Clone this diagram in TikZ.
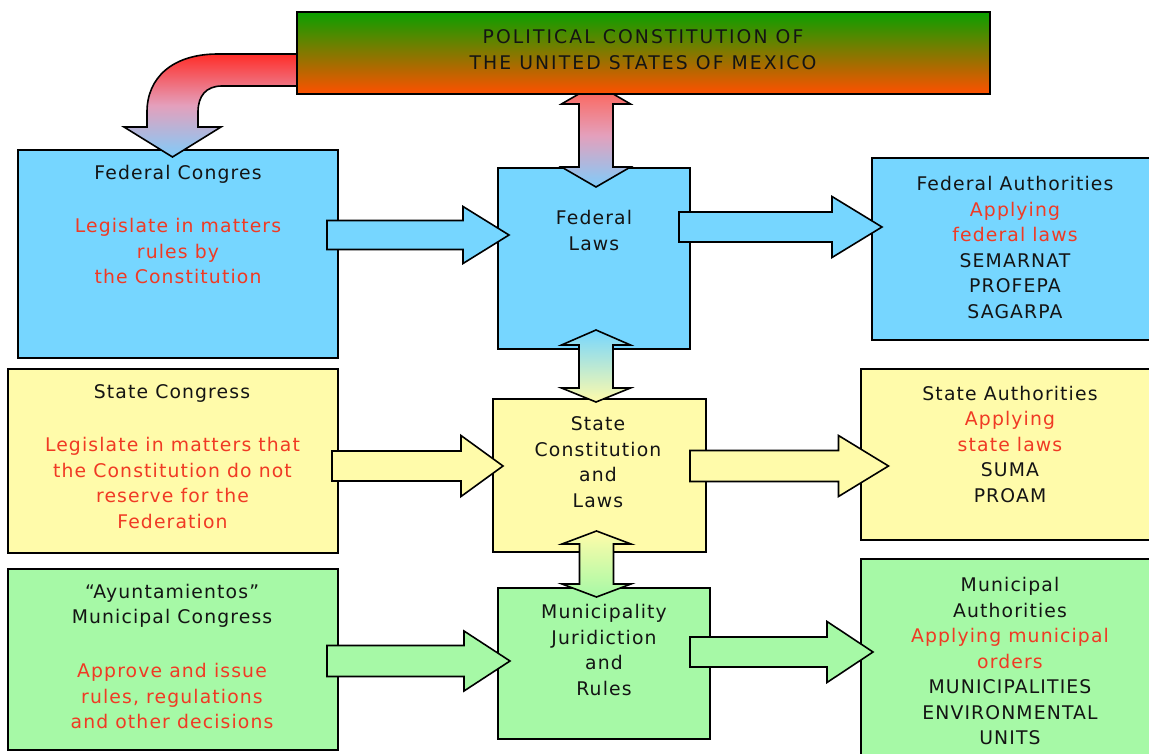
\documentclass[tikz,border=0pt]{standalone}
\usepackage{fontspec}
\setmainfont{DejaVu Sans}[LetterSpace=6]
\newfontfamily\capsfont{DejaVu Sans}[LetterSpace=11]
\definecolor{fblue}{RGB}{118,214,255}
\definecolor{fyellow}{RGB}{255,251,170}
\definecolor{fgreen}{RGB}{166,249,166}
\definecolor{tred}{RGB}{240,58,36}
\definecolor{tgreen}{RGB}{10,160,0}
\definecolor{torange}{RGB}{255,80,0}
\definecolor{ared}{RGB}{255,45,40}
\definecolor{ared2}{RGB}{255,95,80}
\definecolor{apink}{RGB}{228,160,188}
\definecolor{ablue}{RGB}{128,204,250}
\tikzset{
  box/.style={draw=black, line width=1.6pt, inner sep=0pt, outer sep=0pt, anchor=north west},
  txt/.style={align=center, inner sep=0pt, font=\fontsize{18.8}{25.5}\selectfont, text=black!92},
  rtxt/.style={txt, text=tred},
  arr/.style={draw=black, line width=1.6pt, line join=miter},
}
% right block arrow: x1 x2 x3 yc shaft-half head-half colour
\newcommand\rarr[7]{%
  \draw[arr, fill=#7] (#1,#4-#5) -- (#2,#4-#5) -- (#2,#4-#6) -- (#3,#4)
    -- (#2,#4+#6) -- (#2,#4+#5) -- (#1,#4+#5) -- cycle;}
% vertical double block arrow: xc shaft-half head-half ytop ybase1 ybase2 ybot shading-style
\newcommand\varr[8]{%
  \draw[arr, #8] (#1,#4) -- (#1+#3,#5) -- (#1+#2,#5) -- (#1+#2,#6)
    -- (#1+#3,#6) -- (#1,#7) -- (#1-#3,#6) -- (#1-#2,#6) -- (#1-#2,#5) -- (#1-#3,#5) -- cycle;}
\begin{document}
\begin{tikzpicture}[x=1pt,y=-1pt]
\useasboundingbox (0,0) rectangle (1149,754);
\clip (0,0) rectangle (1149,754);
% boxes
\node[box, fill=fblue, minimum width=320pt, minimum height=208pt] (fc) at (18,150) {};
\node[box, fill=fblue, minimum width=192pt, minimum height=181pt] (fl) at (498,168) {};
\node[box, fill=fblue, minimum width=300pt, minimum height=182pt] (fa) at (872,158) {};
\node[box, fill=fyellow, minimum width=330pt, minimum height=184pt] (sc) at (8,369) {};
\node[box, fill=fyellow, minimum width=213pt, minimum height=153pt] (scl) at (493,399) {};
\node[box, fill=fyellow, minimum width=300pt, minimum height=171pt] (sa) at (861,369) {};
\node[box, fill=fgreen, minimum width=330pt, minimum height=181pt] (mc) at (8,569) {};
\node[box, fill=fgreen, minimum width=212pt, minimum height=151pt] (mj) at (498,588) {};
\node[box, fill=fgreen, minimum width=300pt, minimum height=220pt] (ma) at (861,559) {};
% horizontal arrows
\rarr{327}{463}{509}{235}{14.5}{28.5}{fblue}
\rarr{679}{832}{882}{227}{15}{30.5}{fblue}
\rarr{332}{461}{503}{466}{15}{30.5}{fyellow}
\rarr{690}{838.5}{888.5}{466}{15.5}{30.5}{fyellow}
\rarr{327}{464}{510}{661}{15.5}{30}{fgreen}
\rarr{690}{827}{873}{652}{15}{30.5}{fgreen}
% vertical double arrows
\varr{596}{17}{34.5}{330}{345}{388}{402}{top color=fblue, bottom color=fyellow}
\varr{596.5}{17}{34.5}{531}{544}{584}{597}{top color=fyellow, bottom color=fgreen}
\varr{596}{17}{34.5}{84}{104}{167}{187}{top color=ared2, bottom color=ablue, middle color=apink}
% curved arrow
\draw[arr, top color=ared, bottom color=ablue, middle color=apink] (300,54) -- (218,54)
  .. controls (172,54) and (147,78) .. (147,112) -- (147,127) -- (124,127)
  -- (172.5,157) -- (221,127) -- (198,127) -- (198,112)
  .. controls (198,96) and (206,86) .. (222,86) -- (300,86) -- cycle;
% top box
\node[box, top color=tgreen, bottom color=torange, minimum width=693pt, minimum height=82pt] (pc) at (297,12) {};
% texts
\node[txt, font=\capsfont\fontsize{18.8}{25.5}\selectfont] (pct) at (643,49.5) {POLITICAL CONSTITUTION OF\\THE UNITED STATES OF MEXICO};
\node[txt] (fct) at (178,174) {Federal Congres};
\node[rtxt] (fcr) at (178,251) {Legislate in matters\\rules by\\the Constitution};
\node[txt] (flt) at (594,230.5) {Federal\\Laws};
\node[txt] (fat) at (1015,247.5) {Federal Authorities\\\textcolor{tred}{Applying}\\\textcolor{tred}{federal laws}\\SEMARNAT\\PROFEPA\\SAGARPA};
\node[txt] (sct) at (172,393) {State Congress};
\node[rtxt] (scr) at (172.5,483) {Legislate in matters that\\the Constitution do not\\reserve for the\\Federation};
\node[txt] (sclt) at (598,462) {State\\Constitution\\and\\Laws};
\node[txt] (sat) at (1010,444) {State Authorities\\\textcolor{tred}{Applying}\\\textcolor{tred}{state laws}\\SUMA\\PROAM};
\node[txt] (mct) at (172,606) {“Ayuntamientos”\\Municipal Congress};
\node[rtxt] (mcr) at (172,696) {Approve and issue\\rules, regulations\\and other decisions};
\node[txt] (mjt) at (604,650) {Municipality\\Juridiction\\and\\Rules};
\node[txt] (mat) at (1010,661) {Municipal\\Authorities\\\textcolor{tred}{Applying municipal}\\\textcolor{tred}{orders}\\MUNICIPALITIES\\ENVIRONMENTAL\\UNITS};
\end{tikzpicture}
\end{document}
